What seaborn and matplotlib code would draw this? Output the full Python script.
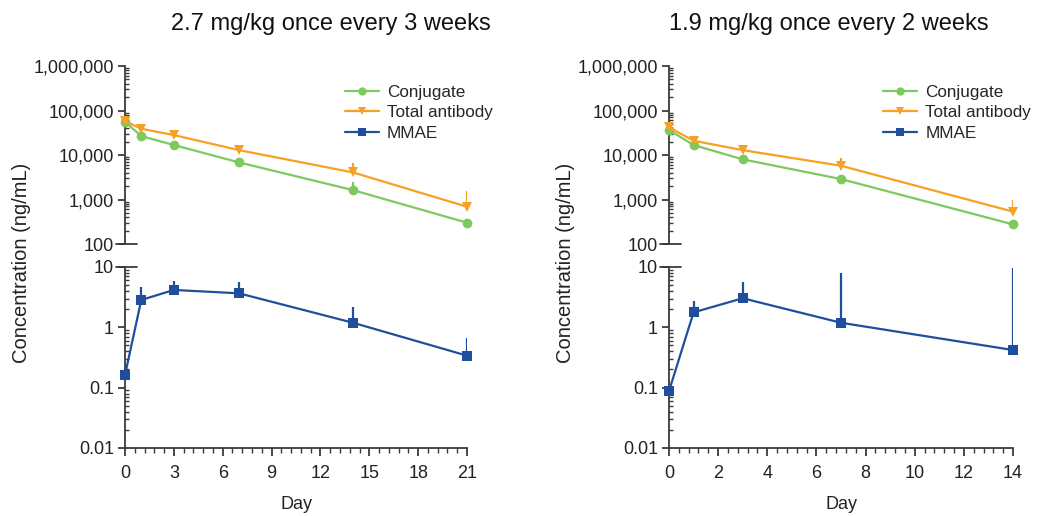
import matplotlib
matplotlib.use("Agg")
import matplotlib.pyplot as plt
import matplotlib.ticker as mticker
import numpy as np
import pandas as pd
import seaborn as sns

sns.set_style("ticks")
plt.rcParams["font.family"] = ["Liberation Sans", "DejaVu Sans"]

# 2.7 mg/kg q3w
days_a = [0, 1, 3, 7, 14, 21]
conj_a = [56000, 26700, 16800, 6840, 1630, 302]
conj_a_hi = [58000, 28000, 17500, 7200, 2500, 320]
tab_a = [58000, 39000, 28100, 12900, 4070, 690]
tab_a_hi = [62000, 42000, 31000, 14000, 6500, 1580]
mmae_a = [0.162, 2.84, 4.16, 3.66, 1.19, 0.339]
mmae_a_hi = [0.22, 4.72, 5.93, 5.7, 2.2, 0.675]

# 1.9 mg/kg q2w
days_b = [0, 1, 3, 7, 14]
conj_b = [36500, 16800, 8000, 2890, 277]
conj_b_hi = [38000, 17500, 8400, 3000, 290]
tab_b = [41900, 21000, 12900, 5750, 535]
tab_b_hi = [45000, 24000, 14000, 8400, 980]
mmae_b = [0.088, 1.77, 3.03, 1.19, 0.42]
mmae_b_hi = [0.088, 2.77, 5.7, 8.0, 9.5]

titles = ["2.7 mg/kg once every 3 weeks", "1.9 mg/kg once every 2 weeks"]
xmax = [21, 14]
xmajor = [3, 2]
xminor = [0.6, 0.4]

colors = {"Conjugate": "#7dc95e", "Total antibody": "#f7a124", "MMAE": "#1f4f9c"}
markers = {"Conjugate": "o", "Total antibody": "v", "MMAE": "s"}
axis_col = "#3a3a3a"

fig = plt.figure(figsize=(10.39, 5.16), dpi=100)

panels = [
    (days_a, conj_a, conj_a_hi, tab_a, tab_a_hi, mmae_a, mmae_a_hi),
    (days_b, conj_b, conj_b_hi, tab_b, tab_b_hi, mmae_b, mmae_b_hi),
]
lefts = [0.1203, 0.6439]
widths = [0.3292, 0.3311]
title_x = [0.318, 0.798]
legend_x = [0.623, 0.603]

for i, (days, conj, conj_hi, tab, tab_hi, mmae, mmae_hi) in enumerate(panels):
    ax_t = fig.add_axes([lefts[i], 0.527, widths[i], 0.345])
    ax_b = fig.add_axes([lefts[i], 0.1318, widths[i], 0.3508], sharex=ax_t)

    top = pd.DataFrame({
        "day": days * 2,
        "conc": conj + tab,
        "hi": conj_hi + tab_hi,
        "analyte": ["Conjugate"] * len(days) + ["Total antibody"] * len(days),
    })
    bot = pd.DataFrame({"day": days, "conc": mmae, "hi": mmae_hi, "analyte": "MMAE"})

    for ax, df in [(ax_t, top), (ax_b, bot)]:
        for name, g in df.groupby("analyte", sort=False):
            ax.vlines(g["day"], g["conc"], g["hi"], color=colors[name], lw=1.6, zorder=2)
        sns.lineplot(data=df, x="day", y="conc", hue="analyte", style="analyte",
                     palette=colors, markers=markers, dashes=False, legend=False,
                     markersize=7, markeredgewidth=0, lw=1.6, ax=ax, clip_on=False, zorder=3)
        ax.set_yscale("log")
        ax.set_xlabel("")
        ax.set_ylabel("")
        sns.despine(ax=ax)
        ax.spines["left"].set_color(axis_col)
        ax.spines["left"].set_linewidth(1.3)
        ax.tick_params(axis="y", which="major", direction="out", length=5, width=1.3,
                       colors=axis_col, labelsize=13, labelcolor="#222222", pad=3)
        ax.tick_params(axis="y", which="minor", direction="in", length=3, width=1, colors=axis_col)

    ax_t.set_ylim(100, 1e6)
    ax_t.spines["bottom"].set_visible(False)
    ax_t.tick_params(axis="x", which="both", bottom=False, labelbottom=False)
    ax_t.yaxis.set_major_formatter(mticker.FuncFormatter(lambda v, p: f"{v:,.0f}"))
    ax_t.axhline(100, xmin=-0.027, xmax=0.036, color=axis_col, lw=1.3, clip_on=False)

    ax_b.set_ylim(0.01, 10)
    ax_b.yaxis.set_major_formatter(mticker.FuncFormatter(lambda v, p: f"{v:g}"))
    ax_b.axhline(10, xmin=-0.027, xmax=0.036, color=axis_col, lw=1.3, clip_on=False)
    ax_b.spines["bottom"].set_color(axis_col)
    ax_b.spines["bottom"].set_linewidth(1.3)

    ax_b.set_xlim(0, xmax[i])
    ax_b.xaxis.set_major_locator(mticker.MultipleLocator(xmajor[i]))
    ax_b.xaxis.set_minor_locator(mticker.MultipleLocator(xminor[i]))
    ax_b.tick_params(axis="x", which="major", direction="out", length=6, width=1.3,
                     colors=axis_col, labelsize=13, labelcolor="#222222", pad=6)
    ax_b.tick_params(axis="x", which="minor", direction="out", length=3.5, width=1, colors=axis_col)
    ax_b.set_xlabel("Day", fontsize=13, color="#222222", labelpad=10)

    fig.text(title_x[i], 0.953, titles[i], ha="center", va="center",
             fontsize=17, color="#111111")

    handles = ax_t.get_lines()[:2] + ax_b.get_lines()[:1]
    ax_t.legend(handles, ["Conjugate", "Total antibody", "MMAE"], loc="upper left",
                bbox_to_anchor=(legend_x[i], 0.93), frameon=False, fontsize=12.3,
                handlelength=2.0, handletextpad=0.45, labelspacing=0.3,
                borderaxespad=0, markerscale=0.85)

    fig.text(lefts[i] - 0.1, 0.49, "Concentration (ng/mL)", rotation=90,
             ha="center", va="center", fontsize=14.5, color="#222222")

fig.savefig("out.png", dpi=100)
